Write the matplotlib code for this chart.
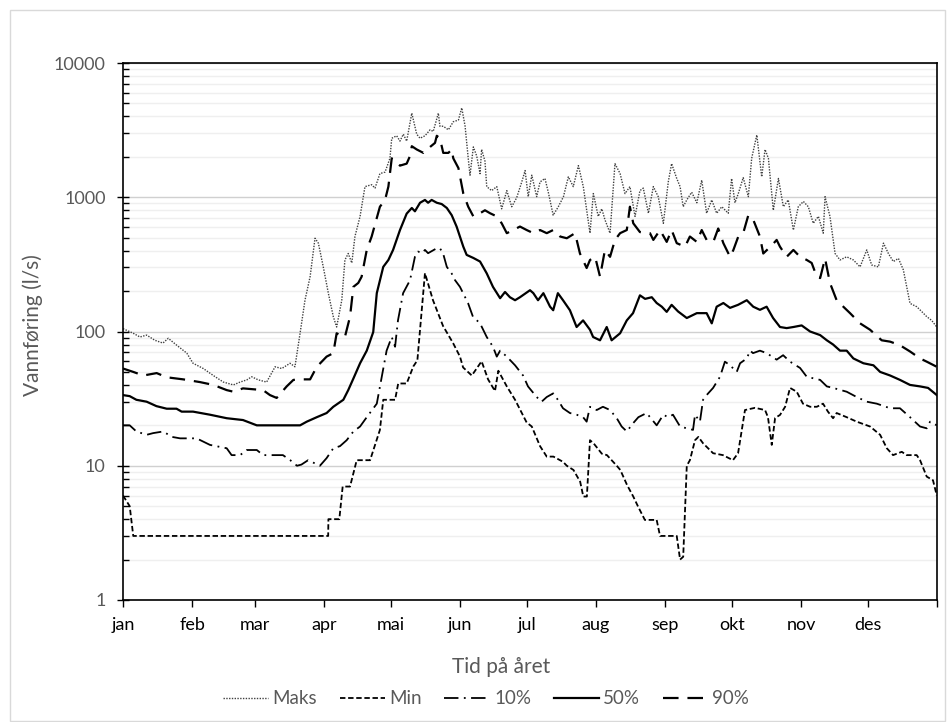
import numpy as np
import matplotlib
matplotlib.use('Agg')
import matplotlib.pyplot as plt
from matplotlib.ticker import FixedLocator, NullFormatter, LogLocator
from matplotlib.patches import Rectangle

plt.rcParams['font.family'] = ['Lato', 'DejaVu Sans']

# dag i året (0 = 1. jan) og vannføring (l/s), lest av figuren
maks_day = [0, 4.6, 7.6, 10.6, 14.3, 17.9, 20.3, 24.1, 28.6, 31.4, 36, 40.5, 45, 49.5, 52.5,
            55.5, 57.7, 60.7, 64.4, 68.2, 71.2, 74.9, 77.1, 79.4, 81.6, 83.9, 86.1, 87.6,
            89.8, 92.1, 94.3, 95.8, 98.1, 99.5, 101, 102.6, 104, 106.3, 108.5, 111.5, 113,
            115.2, 117.5, 119.7, 120.5, 122.7, 124.2, 125.7, 127.2, 129.5, 131.7, 133.2,
            135.4, 137.7, 139.1, 141.4, 142.1, 143.6, 145.9, 148.1, 150.4, 151.9, 153.4,
            154.8, 155.6, 157.1, 158.6, 160.1, 160.8, 162.3, 163.1, 165.3, 167.6, 169.8,
            172.1, 174.3, 176.5, 178.8, 180.3, 181.7, 183.3, 185.5, 187, 189.2, 190.7,
            192.9, 195.2, 197.5, 199.7, 201.9, 204.2, 206.4, 209.4, 210.9, 213.1, 214.7,
            216.1, 218.4, 220.6, 222.9, 225.1, 227.3, 229.6, 231.8, 233.3, 235.6, 237.8,
            240, 242.3, 244.5, 246, 248.3, 249.8, 251.2, 252.8, 255, 257.3, 259.5, 261.7,
            264, 266.2, 268.5, 271.4, 272.9, 274.4, 275.9, 278.1, 280.4, 281.9, 284.2,
            286.4, 287.9, 289.4, 291.6, 293.9, 296.1, 298.3, 300.6, 302.8, 305.1, 307.3,
            309.5, 311.8, 314, 314.8, 317, 319.3, 321.5, 324.5, 327.5, 330.5, 333.5, 335.7,
            338.7, 341, 343.2, 345.4, 347.7, 349.9, 352.9, 355.9, 358.1, 360.4, 362.6, 364.9]
maks_val = [105, 97, 91, 94, 86, 82, 89, 79, 69, 58, 53, 47, 42, 40, 42,
            43.6, 46, 43.6, 42, 54.6, 53, 58, 54.6, 97, 171, 256, 495, 455,
            303, 192, 129, 108, 171, 341, 381, 324, 510, 720, 1200, 1240, 1170,
            1500, 1540, 1950, 2750, 2870, 2620, 2950, 2620, 4230, 2950, 2750,
            2870, 3180, 3090, 4230, 3380, 3380, 3180, 3650, 3760, 4630, 3380,
            1950, 1460, 2370, 2030, 1500, 2270, 1860, 1200, 1120, 1200, 820,
            1120, 850, 990, 1300, 1580, 1010, 1460, 1010, 1300, 1380, 1090,
            735, 850, 1010, 1420, 1200, 1720, 1200, 540, 1065, 720, 820,
            680, 540, 1780, 1500, 1065, 1200, 720, 1120, 1170, 760, 1200,
            1010, 640, 1300, 1780, 1380, 1200, 850, 955, 1090, 910, 1340, 760,
            955, 760, 850, 760, 1380, 910, 1065, 1400, 1010, 1950, 2910,
            1420, 2270, 1950, 800, 1380, 850, 955, 570, 850, 930, 850,
            640, 720, 540, 1010, 720, 381, 341, 360, 341, 303, 405, 313,
            303, 455, 381, 332, 350, 288, 162, 153, 141, 129, 121, 108]

min_day = [0, 3, 4.6, 92, 92.1, 97, 98.5, 101.8, 104.8, 110.8, 115.2, 116.7, 122, 123.4, 127.2,
           130.2, 132, 135.4, 139, 143.5, 148, 151.1, 152.5, 156.4, 160.8, 163.7, 166.8,
           168.3, 172.1, 175.8, 181, 183.3, 187, 190, 193, 197.3, 199, 202, 205, 206.4, 208,
           209.4, 211, 214.7, 217, 221.4, 223, 226, 228.8, 231, 234, 239.3, 240.8, 248.3,
           249.8, 251.2, 252.8, 254.2, 256.5, 258, 260.1, 264.6, 269, 273.5, 275.8, 278.9,
           283.4, 287.9, 289.2, 290.9, 292.4, 294.6, 296.9, 299.1, 302.1, 304.9, 308.1,
           311.1, 313.9, 316.1, 318.4, 320, 324.5, 329, 335, 339.5, 342.5, 345.3, 349.2,
           351.4, 355.9, 357.4, 360.4, 363.2, 364.9]
min_val = [6, 5, 3, 3, 4, 4, 7, 7, 11, 11, 18.5, 31, 31, 41, 41,
           55, 61, 272, 171, 110, 82, 65, 54, 47, 60, 44, 36,
           51, 39, 31, 21, 19.6, 14, 11.7, 11.7, 10.7, 10, 9.3, 7.6, 5.9, 5.9,
           15.5, 14.7, 12.3, 12, 10, 9.3, 7.2, 5.9, 4.95, 3.95, 3.95, 3, 3,
           2, 2.1, 10, 11, 15.5, 16.4, 14.7, 12.4, 12, 11, 12.4, 26,
           27, 26, 23, 14.3, 22.7, 23.9, 27.5, 38, 35.6, 29, 27.5,
           27.5, 29, 25.3, 22.6, 24.7, 23, 21.3, 19.6, 17, 13.5, 12, 12.7,
           12, 12, 11, 8.3, 7.8, 6]

p10_day = [0, 3, 6, 10.6, 13.5, 18, 22, 25.6, 33, 39, 46.5, 48.7, 52.5, 55.5, 60, 62.8,
           71.7, 75, 78, 80, 83, 88.3, 91.3, 94.3, 97.3, 100.3, 103.3, 106.3, 109.3,
           113.8, 118.2, 120.5, 122, 123.3, 125.6, 128.7, 130.9, 132.3, 133.9, 135.4,
           136.8, 140.7, 142.1, 143.5, 145.2, 147.4, 148.9, 151.1, 152.5, 154.7, 156.9,
           160.1, 163.1, 165.9, 167.6, 169.1, 172.1, 175.8, 179.4, 181.6, 185.5, 187.7,
           190, 192.9, 195, 197.3, 200.4, 203.4, 206.3, 207.9, 209.4, 212.4, 215.2,
           218.4, 221.4, 223.6, 225.9, 228.8, 231.1, 234.8, 239.3, 242.3, 244.4, 246.6,
           249.8, 252.8, 255.6, 256.5, 258.7, 260.1, 261.7, 264.6, 267.7, 269.9, 272.2,
           275.2, 276.7, 279.7, 281.2, 282.5, 285.6, 288.6, 293.1, 296, 299.1, 303.6,
           306.6, 312.6, 315.6, 318.4, 324.5, 329, 333.5, 338, 344, 348.4, 352.9, 357.4,
           360.4, 361.9, 364.9]
p10_val = [20, 20, 18, 17, 17.5, 18, 16.4, 16, 16, 14.3, 13.5, 12, 12, 13.1, 13.1, 12,
           12, 11, 10, 10.2, 11, 10, 11.4, 13.5, 14, 15.5, 18, 19.6, 23,
           29, 72, 91, 77, 121, 193, 241, 360, 394, 383, 405,
           383, 417, 417, 383, 303, 270, 241, 215, 193, 163, 129,
           115, 91, 77, 65, 72, 65, 56, 47, 39, 32.5, 30,
           32.5, 34.6, 31, 26.8, 24.7, 24, 23, 21.3, 27.5, 26, 27.5,
           26, 22.6, 19.6, 18, 20.8, 23, 24.7, 20, 24, 23, 24,
           19.6, 19, 18.5, 24, 21.3, 31, 33.6, 38, 46, 59.6, 56,
           50, 58, 63, 72, 69, 72, 69, 61.7, 66.6, 59.6, 53.5,
           46, 43.6, 39, 38, 35.6, 32.5, 30, 29, 26.8, 26.8, 23, 19.6,
           19, 21.3, 20]

p50_day = [0, 3, 6, 10.6, 15, 19.6, 24, 26.3, 31.4, 39, 46.5, 53.8, 60, 79.4, 82.4, 86.9,
           91.3, 94.3, 98.8, 101, 103.3, 106.3, 109.3, 112.2, 113.8, 116.7, 119, 121.1,
           124.2, 127.2, 129.5, 130.9, 133.2, 135.4, 136.8, 138.4, 140.7, 142.9, 145.2,
           147.4, 149.6, 152.6, 154.1, 157.1, 160.1, 163.1, 165.9, 169.1, 171.3, 173.5,
           175.8, 178, 182.5, 184, 186.1, 188.5, 191.5, 192.9, 195, 197.3, 200.4, 203.4,
           206.3, 209.4, 210.8, 213.9, 216.9, 219.1, 222.9, 225.9, 228.7, 231.8, 234.1,
           237.1, 239.3, 241.6, 243.8, 246, 248.9, 252.8, 257.3, 261.7, 264, 266.2, 269.2,
           272.2, 275.8, 279.7, 282.6, 285.6, 288.6, 291.5, 294.6, 297.6, 300.6, 304.3,
           308.1, 312.6, 315.6, 318.4, 321.5, 324.5, 327.5, 332, 336.5, 339.5, 344, 348.4,
           352.9, 357.4, 361, 364.9]
p50_val = [33.6, 33, 31, 30, 27.8, 26.6, 26.6, 25.3, 25.3, 24, 22.6, 21.9, 20, 20, 21.3, 23,
           24.7, 27.5, 31, 36.6, 44.6, 58, 72, 99, 193, 303, 341, 405,
           570, 755, 832, 786, 910, 955, 910, 955, 910, 890, 832,
           735, 604, 428, 372, 353, 332, 271, 215, 177, 197, 180,
           171, 180, 203, 193, 171, 193, 153, 144, 193, 171, 144, 108,
           121, 103, 91, 86, 108, 86, 97, 121, 137, 186, 175,
           180, 163, 153, 140, 158, 141, 126, 137, 137, 115, 153, 163,
           150, 158, 171, 153, 145, 153, 126, 108, 106, 108, 111,
           100, 94, 86, 80, 72, 72, 63, 58, 56, 50, 47, 43.6,
           40, 39, 38, 33.6]

p90_day = [0, 4.6, 9.1, 15.1, 19.6, 27, 34.5, 40.5, 46.5, 49.5, 53.8, 62.8, 65.9, 68.9, 73.4,
           76.4, 79.4, 83.9, 86.9, 91.3, 94.3, 95.8, 98.8, 99.5, 101.8, 103.3, 105.5, 107,
           109.3, 111.5, 115.2, 117.5, 119, 120.5, 124.2, 127.2, 128.7, 129.5, 131.7, 134.7,
           137.7, 139.9, 140.7, 142.1, 143.6, 145.9, 147.4, 148.1, 150.4, 152.6, 154.8,
           157.1, 160.1, 162.3, 164.6, 167.6, 169.8, 172.1, 175, 178, 181, 184, 187, 190,
           192.9, 196, 199, 202.7, 204.9, 207.9, 209.4, 211.7, 213.9, 216.1, 218.4, 220.6,
           222.9, 225.9, 227.3, 228.8, 231.8, 236.3, 237.8, 240.8, 243.8, 246, 248.3, 252,
           254.2, 257.3, 259.5, 261.7, 264.7, 266.9, 269.2, 272.2, 273.7, 275.9, 278.1,
           280.4, 282.6, 285.6, 287.1, 290.9, 293.1, 294.6, 297.6, 300.6, 303.6, 306.6,
           308.8, 311.1, 312.6, 314.8, 317, 320, 323, 326, 330.5, 335, 340.2, 344, 348.4,
           352.9, 357.4, 360.4, 364.9]
p90_val = [53, 50, 47, 49, 45.6, 44, 42, 40, 36.6, 35.6, 37.7, 36.6, 33.6, 32, 39,
           43.6, 44, 44, 54.6, 65, 69, 97, 91, 91, 129, 215, 230, 256,
           405, 510, 850, 955, 1200, 1950, 1720, 1780, 2030, 2400, 2270, 2140,
           2370, 2540, 2870, 2750, 2140, 2140, 2270, 1950, 1650, 1065, 850,
           720, 760, 800, 760, 720, 640, 540, 570, 605, 570, 540, 570, 540,
           570, 510, 495, 540, 381, 297, 341, 360, 256, 405, 360, 481,
           540, 570, 850, 640, 550, 540, 481, 570, 465, 570, 455, 428,
           510, 465, 570, 481, 465, 585, 455, 360, 405, 510, 540,
           735, 680, 510, 381, 438, 481, 428, 360, 405, 360, 341,
           324, 256, 250, 350, 230, 171, 153, 137, 115, 103, 86, 84, 79,
           71, 63, 59.6, 54.6]

month_start = [0, 31, 59, 90, 120, 151, 181, 212, 243, 273, 304, 334, 365]
month_names = ['jan', 'feb', 'mar', 'apr', 'mai', 'jun', 'jul', 'aug', 'sep', 'okt', 'nov', 'des']

GRAY = '#595959'

fig = plt.figure(figsize=(9.47, 7.22), dpi=100)
fig.patches.append(Rectangle((10 / 947, 0.002), 935 / 947, 1 - 10 / 722 - 0.002,
                             transform=fig.transFigure, fill=False,
                             edgecolor='#d9d9d9', lw=1.0))
ax = fig.add_axes([123 / 947, 1 - 600 / 722, 814 / 947, 537 / 722])

ax.plot(maks_day, maks_val, color='#404040', lw=1.0, ls=(0, (1, 1)), label='Maks')
ax.plot(min_day, min_val, color='black', lw=1.3, ls=(0, (3, 1.5)), label='Min')
ax.plot(p10_day, p10_val, color='black', lw=1.3, ls=(0, (8, 3, 1, 3)), label='10%')
ax.plot(p50_day, p50_val, color='black', lw=1.6, ls='-', label='50%')
ax.plot(p90_day, p90_val, color='black', lw=1.6, ls=(0, (7, 4)), label='90%')

ax.set_yscale('log')
ax.set_ylim(1, 10000)
ax.set_xlim(0, 365)
ax.set_yticks([1, 10, 100, 1000, 10000])
ax.set_yticklabels(['1', '10', '100', '1000', '10000'])
ax.yaxis.set_minor_locator(LogLocator(base=10, subs=np.arange(2, 10)))
ax.yaxis.set_minor_formatter(NullFormatter())

ax.grid(True, which='major', axis='y', color='#d0d0d0', lw=1.0)
ax.grid(True, which='minor', axis='y', color='#efefef', lw=1.0)
ax.set_axisbelow(True)

ax.xaxis.set_major_locator(FixedLocator(month_start))
ax.set_xticklabels(month_names + [''])

ax.tick_params(axis='y', which='major', direction='inout', length=9, width=1.0,
               labelsize=13, labelcolor=GRAY, pad=8)
ax.tick_params(axis='y', which='minor', direction='in', length=4, width=1.0)
ax.tick_params(axis='x', which='major', direction='out', length=5, width=1.0,
               labelsize=13, labelcolor='black', pad=7)
for s in ax.spines.values():
    s.set_color('black')
    s.set_linewidth(1.2)

fig.text(501 / 947, 1 - 667 / 722, 'Tid på året', ha='center', va='center',
         fontsize=15, color=GRAY)
fig.text(33 / 947, 1 - 325 / 722, 'Vannføring (l/s)', ha='center', va='center',
         rotation=90, fontsize=15, color=GRAY)

leg = fig.legend(loc='center', bbox_to_anchor=(486 / 947, 1 - 699 / 722), ncol=5,
                 frameon=False, fontsize=13.5, handlelength=2.4, handletextpad=0.25,
                 columnspacing=1.2)
for t in leg.get_texts():
    t.set_color(GRAY)

fig.savefig('out.png', dpi=100)
